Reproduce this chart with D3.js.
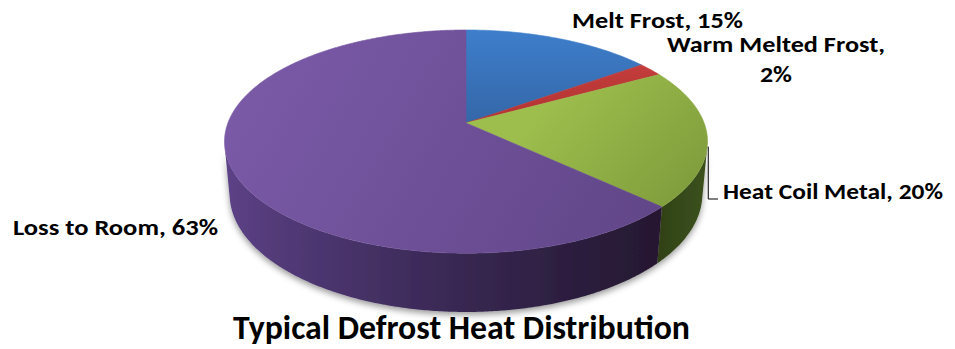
<!DOCTYPE html>
<html>
<head>
<meta charset="utf-8">
<script src="https://cdn.jsdelivr.net/npm/d3@7"></script>
<style>
  html, body { margin: 0; padding: 0; background: #ffffff; }
  svg { display: block; }
  text { font-family: Carlito, Calibri, Lato, "Open Sans", sans-serif; font-weight: bold; fill: #000; }
</style>
</head>
<body>
<svg id="chart" width="955" height="349"></svg>
<script>
// Defrost heat split, in percent
const categories = ["Melt Frost", "Warm Melted Frost", "Heat Coil Metal", "Loss to Room"];
const values = [15, 2, 20, 63];
const chartTitle = "Typical Defrost Heat Distribution";

// Face fills per slice: [light, dark] for the top, [left, right] for the rim
const topColors = [["#3e7ecb", "#3467a8"], ["#cb4240", "#b33333"], ["#9dbe4d", "#7e9b3b"], ["#7b5aa8", "#614688"]];
const rimColors = [["#2c5a94", "#254c7e"], ["#9a2d2c", "#862626"], ["#2f4016", "#3c521d"], ["#5d4287", "#271a33"]];

// Label anchors: x, baseline y, rendered width; wrapped labels break after the comma
const labelLayout = [
  { x: 572, y: 28, w: 171 },
  { x: 667, y: 52, w: 218, wrap: true, x2: 760, y2: 82, w2: 32 },
  { x: 723, y: 199, w: 220 },
  { x: 13, y: 235, w: 205 }
];

const svg = d3.select("#chart");
const defs = svg.append("defs");

// 3D disc seen from above at an angle, with perspective
const cx = 466, cy = 123;          // screen position of the pie centre
const elev = Math.asin(0.4557);    // camera elevation
const cosE = Math.cos(elev), sinE = Math.sin(elev);
const dist = 5.34;                 // camera distance, in radii
const focal = 1271.6;              // focal length, px
const thick = 0.25;                // disc thickness, in radii

function project(phi, r, z) {
  const x = r * Math.sin(phi);
  const y = -r * Math.cos(phi);    // positive y points toward the viewer
  const depth = dist - y * cosE - z * sinE;
  return [cx + focal * x / depth, cy + focal * (y * sinE - z * cosE) / depth];
}

const arcs = d3.pie().sort(null).value(d => d)(values);
const line = d3.line();
const step = Math.PI / 360;

function arcPoints(a0, a1, z) {
  const pts = [];
  const n = Math.max(2, Math.ceil(Math.abs(a1 - a0) / step));
  for (let i = 0; i <= n; i++) pts.push(project(a0 + (a1 - a0) * i / n, 1, z));
  return pts;
}

// gradients
topColors.forEach((c, i) => {
  const g = defs.append("linearGradient").attr("id", "top" + i)
    .attr("gradientUnits", "userSpaceOnUse");
  if (i === 3) g.attr("x1", 250).attr("y1", 40).attr("x2", 640).attr("y2", 260);
  else if (i === 2) g.attr("x1", 560).attr("y1", 90).attr("x2", 690).attr("y2", 210);
  else g.attr("x1", 0).attr("y1", 30).attr("x2", 0).attr("y2", 123);
  g.append("stop").attr("offset", 0).attr("stop-color", c[0]);
  g.append("stop").attr("offset", 1).attr("stop-color", c[1]);
});
rimColors.forEach((c, i) => {
  const g = defs.append("linearGradient").attr("id", "rim" + i)
    .attr("gradientUnits", "userSpaceOnUse").attr("y1", 0).attr("y2", 0);
  if (i === 3) {
    g.attr("x1", 226).attr("x2", 662);
    g.append("stop").attr("offset", 0).attr("stop-color", "#5d4287");
    g.append("stop").attr("offset", 0.12).attr("stop-color", "#523a78");
    g.append("stop").attr("offset", 0.5).attr("stop-color", "#3a2955");
    g.append("stop").attr("offset", 0.85).attr("stop-color", "#2a1c3a");
    g.append("stop").attr("offset", 1).attr("stop-color", "#261831");
  } else {
    g.attr("x1", 655).attr("x2", 708);
    g.append("stop").attr("offset", 0).attr("stop-color", c[0]);
    g.append("stop").attr("offset", 1).attr("stop-color", c[1]);
  }
});

const shadow = defs.append("filter").attr("id", "shadow")
  .attr("x", "-10%").attr("y", "-10%").attr("width", "120%").attr("height", "130%");
shadow.append("feDropShadow").attr("dx", 0).attr("dy", 3).attr("stdDeviation", 3)
  .attr("flood-color", "#000").attr("flood-opacity", 0.4);

// visible part of the outer rim
const rimFrom = Math.acos(-1 / (dist * cosE));
const rimTo = 2 * Math.PI - rimFrom;

const rimLayer = svg.append("g").attr("filter", "url(#shadow)");
arcs.forEach((a, i) => {
  const a0 = Math.max(a.startAngle, rimFrom), a1 = Math.min(a.endAngle, rimTo);
  if (a1 <= a0) return;
  const pts = arcPoints(a0, a1, 0).concat(arcPoints(a1, a0, -thick));
  rimLayer.append("path").attr("d", line(pts) + "Z")
    .attr("fill", `url(#rim${i})`);
});

// top faces
const faceLayer = svg.append("g");
arcs.forEach((a, i) => {
  const pts = [project(0, 0, 0)].concat(arcPoints(a.startAngle, a.endAngle, 0));
  faceLayer.append("path").attr("d", line(pts) + "Z")
    .attr("fill", `url(#top${i})`)
    .attr("stroke", `url(#top${i})`).attr("stroke-width", 0.6);
});

// leader line for the coil label
const leadTop = project(rimFrom, 1, 0);
svg.append("path")
  .attr("d", `M${leadTop[0] + 1},${leadTop[1]} V199 H718`)
  .attr("fill", "none").attr("stroke", "#000").attr("stroke-width", 1);

// data labels
const labelLayer = svg.append("g").attr("font-size", 22);
arcs.forEach((a, i) => {
  const L = labelLayout[i];
  const full = `${categories[i]}, ${values[i]}%`;
  if (L.wrap) {
    labelLayer.append("text").attr("x", L.x).attr("y", L.y)
      .attr("textLength", L.w).attr("lengthAdjust", "spacingAndGlyphs")
      .text(`${categories[i]},`);
    labelLayer.append("text").attr("x", L.x2).attr("y", L.y2)
      .attr("textLength", L.w2).attr("lengthAdjust", "spacingAndGlyphs")
      .text(`${values[i]}%`);
  } else {
    labelLayer.append("text").attr("x", L.x).attr("y", L.y)
      .attr("textLength", L.w).attr("lengthAdjust", "spacingAndGlyphs")
      .text(full);
  }
});

// title
svg.append("text").attr("x", 233).attr("y", 339)
  .attr("font-size", 34)
  .attr("textLength", 457).attr("lengthAdjust", "spacingAndGlyphs")
  .text(chartTitle);
</script>
</body>
</html>
